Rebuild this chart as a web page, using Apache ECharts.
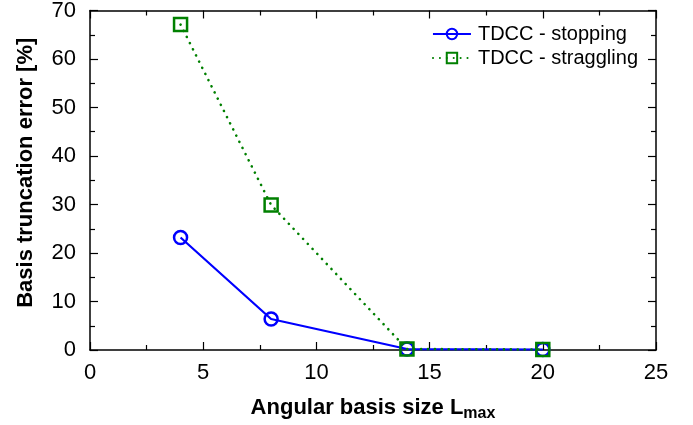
<!DOCTYPE html>
<html><head><meta charset="utf-8">
<script src="https://cdn.jsdelivr.net/npm/echarts@6/dist/echarts.min.js"></script>
<style>html,body{margin:0;padding:0;background:#fff}#c{width:693px;height:425px}</style>
</head><body><div id="c"></div>
<script>
const lmax = [4, 8, 14, 20];
const stopping = [23.2, 6.4, 0.2, 0.1];
const straggling = [67.1, 29.9, 0.2, 0.1];
const xTicks = [0, 5, 10, 15, 20, 25];
const yTicks = [0, 10, 20, 30, 40, 50, 60, 70];

const font = 'Liberation Sans, Arial, sans-serif';
const chart = echarts.init(document.getElementById('c'), null, {renderer: 'canvas'});
const axLine = {show: true, onZero: false, lineStyle: {color: '#000', width: 1.5}};
const tick = {show: true, inside: true, length: 8, lineStyle: {color: '#000', width: 1.2}};
const minor = {show: true, splitNumber: 2, length: 5, lineStyle: {color: '#000', width: 1.2}};
chart.setOption({
  animation: false,
  grid: {left: 90, right: 37, top: 10.5, bottom: 75, containLabel: false, outerBoundsMode: 'none'},
  legend: {
    right: 50, top: 19, orient: 'vertical', itemGap: 4, itemWidth: 38, itemHeight: 13,
    textStyle: {fontFamily: font, fontSize: 20, color: '#000', padding: [0, 0, 0, 2]},
    data: ['TDCC - stopping', 'TDCC - straggling']
  },
  xAxis: [{
    type: 'value', min: 0, max: 25, interval: 5,
    axisLine: axLine, axisTick: tick, minorTick: minor, splitLine: {show: false},
    axisLabel: {fontFamily: font, fontSize: 22, color: '#000', margin: 12,
      formatter: v => xTicks.includes(v) ? String(v) : ''},
    name: '{b|Angular basis size L}{s|max}', nameLocation: 'middle', nameGap: 44,
    nameTextStyle: {rich: {
      b: {fontFamily: font, fontSize: 22, fontWeight: 'bold', color: '#000'},
      s: {fontFamily: font, fontSize: 16, fontWeight: 'bold', color: '#000', padding: [12, 0, 0, 0]}
    }}
  }, {
    type: 'value', position: 'top', min: 0, max: 25, interval: 5,
    axisLine: axLine, axisTick: tick, minorTick: minor, splitLine: {show: false},
    axisLabel: {show: false}
  }],
  yAxis: [{
    type: 'value', min: 0, max: 70, interval: 10,
    axisLine: axLine, axisTick: tick, minorTick: minor, splitLine: {show: false},
    axisLabel: {fontFamily: font, fontSize: 22, color: '#000', margin: 14,
      formatter: v => yTicks.includes(v) ? String(v) : ''},
    name: 'Basis truncation error [%]', nameLocation: 'middle', nameGap: 53,
    nameTextStyle: {fontFamily: font, fontSize: 22, fontWeight: 'bold', color: '#000', padding: [0, 0, 0, 15]}
  }, {
    type: 'value', position: 'right', min: 0, max: 70, interval: 10,
    axisLine: axLine, axisTick: tick, minorTick: minor, splitLine: {show: false},
    axisLabel: {show: false}
  }],
  series: [{
    name: 'TDCC - stopping', type: 'line',
    data: lmax.map((x, i) => [x, stopping[i]]),
    symbol: 'circle', symbolSize: 13, showAllSymbol: true,
    itemStyle: {color: 'rgba(255,255,255,0)', borderColor: '#0000ff', borderWidth: 2.5},
    lineStyle: {color: '#0000ff', width: 2.2}, z: 2
  }, {
    name: 'TDCC - straggling', type: 'line',
    data: lmax.map((x, i) => [x, straggling[i]]),
    symbol: 'rect', symbolSize: 13,
    itemStyle: {color: 'rgba(255,255,255,0)', borderColor: '#008000', borderWidth: 2.5},
    lineStyle: {color: '#008000', width: 2.6, type: [0.1, 6.8], cap: 'round'}, z: 3
  }]
});
</script></body></html>
